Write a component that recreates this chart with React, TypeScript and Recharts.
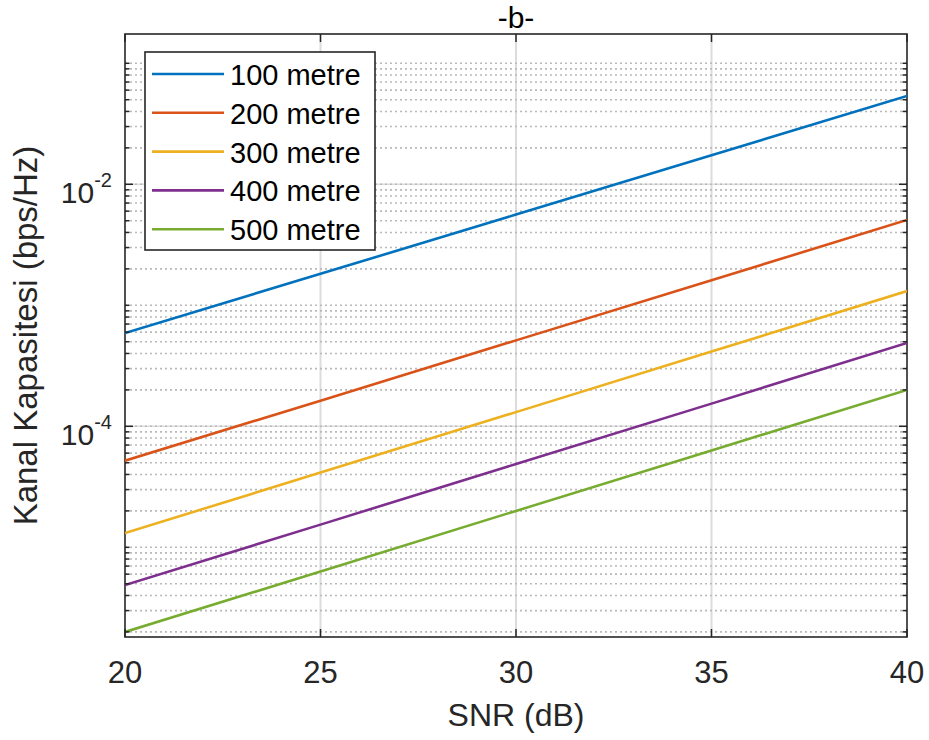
import React from 'react';
import { LineChart, Line, XAxis, YAxis, CartesianGrid, Customized } from 'recharts';

// ---- data ----
const snrDb = [20, 25, 30, 35, 40];
const cap100 = [5.9e-4, 1.82e-3, 5.62e-3, 1.74e-2, 5.37e-2];
const cap200 = [5.2e-5, 1.63e-4, 5.13e-4, 1.61e-3, 5.07e-3];
const cap300 = [1.31e-5, 4.15e-5, 1.31e-4, 4.15e-4, 1.31e-3];
const cap400 = [4.88e-6, 1.54e-5, 4.88e-5, 1.54e-4, 4.88e-4];
const cap500 = [2.0e-6, 6.31e-6, 2.0e-5, 6.31e-5, 2.0e-4];

const seriesNames = ['100 metre', '200 metre', '300 metre', '400 metre', '500 metre'];
const seriesColors = ['#0072BD', '#D95319', '#EDB120', '#7E2F8E', '#77AC30'];
const seriesValues = [cap100, cap200, cap300, cap400, cap500];

const xTicks = [20, 25, 30, 35, 40];
const xDomain = [20, 40];
const xMajorGrid = [25, 30, 35];
const yMajorTicks = [1e-4, 1e-2];
const yMajorLabels = ['-4', '-2'];
const yDecades = [1e-6, 1e-5, 1e-4, 1e-3, 1e-2, 1e-1];
const yMinorMultipliers = [1, 2, 3, 4, 5, 6, 7, 8, 9];
const yDomain = [1.815e-6, 0.1746];

const titleText = '-b-';
const xLabelText = 'SNR (dB)';
const yLabelText = 'Kanal Kapasitesi (bps/Hz)';

// ---- layout ----
const W = 929;
const H = 740;
const PL = 125;
const PR = 907;
const PT = 34;
const PB = 637;
const FONT = "'Liberation Sans', Arial, Helvetica, sans-serif";
const INK = '#262626';

const yGridValues = yDecades
  .flatMap((d) => yMinorMultipliers.map((m) => m * d))
  .filter((v) => v >= yDomain[0] && v <= yDomain[1]);

const data = snrDb.map((x, i) => {
  const row: Record<string, number> = { snr: x };
  seriesValues.forEach((arr, k) => {
    row['s' + k] = arr[i];
  });
  return row;
});

const majorIndex = (v: number) =>
  yMajorTicks.findIndex((t) => Math.abs(Math.log10(t) - Math.log10(v)) < 1e-6);

const XTick = (props: any) => {
  const { x, payload } = props;
  return (
    <g>
      <line x1={x} x2={x} y1={PB} y2={PB - 8} stroke={INK} strokeWidth={1.5} />
      <line x1={x} x2={x} y1={PT} y2={PT + 8} stroke={INK} strokeWidth={1.5} />
      <text x={x} y={683} textAnchor="middle" fontSize={31} fill={INK} fontFamily={FONT}>
        {payload.value}
      </text>
    </g>
  );
};

const YTick = (props: any) => {
  const { y, payload } = props;
  const mi = majorIndex(payload.value);
  const len = mi >= 0 ? 8 : 4.5;
  return (
    <g>
      <line x1={PL} x2={PL + len} y1={y} y2={y} stroke={INK} strokeWidth={1.5} />
      <line x1={PR} x2={PR - len} y1={y} y2={y} stroke={INK} strokeWidth={1.5} />
      {mi >= 0 && (
        <text x={112} y={y + 18.5} textAnchor="end" fontSize={30} fill={INK} fontFamily={FONT}>
          <tspan>10</tspan>
          <tspan dy={-15.5} fontSize={20}>
            {yMajorLabels[mi]}
          </tspan>
        </text>
      )}
    </g>
  );
};

const Overlay = () => {
  const lx = 145;
  const ly = 52;
  const step = 38.8;
  return (
    <g>
      <rect x={PL} y={PT} width={PR - PL} height={PB - PT} fill="none" stroke={INK} strokeWidth={1.6} />
      <text x={(PL + PR) / 2} y={28} textAnchor="middle" fontSize={30} fill="#000" fontFamily={FONT}>
        {titleText}
      </text>
      <text x={(PL + PR) / 2} y={726} textAnchor="middle" fontSize={32} fill={INK} fontFamily={FONT}>
        {xLabelText}
      </text>
      <text
        transform={`translate(37, ${(PT + PB) / 2}) rotate(-90)`}
        textAnchor="middle"
        fontSize={33}
        fill={INK}
        fontFamily={FONT}
      >
        {yLabelText}
      </text>
      <rect x={lx} y={ly} width={230} height={198} fill="#fff" stroke={INK} strokeWidth={1.6} />
      {seriesNames.map((name, i) => {
        const yy = 74 + i * step;
        return (
          <g key={name}>
            <line x1={152} x2={224} y1={yy} y2={yy} stroke={seriesColors[i]} strokeWidth={2.6} />
            <text x={230} y={yy + 11} fontSize={29} fill="#000" fontFamily={FONT}>
              {name}
            </text>
          </g>
        );
      })}
    </g>
  );
};

export default function App() {
  return (
    <div style={{ position: 'absolute', left: 0, top: 0, background: '#fff' }}>
      <LineChart
        width={W}
        height={H}
        data={data}
        margin={{ top: PT, right: W - PR, bottom: 0, left: 0 }}
        style={{ fontFamily: FONT, background: '#fff' }}
      >
        <CartesianGrid
          horizontal={false}
          verticalValues={xMajorGrid}
          stroke="#dcdcdc"
          strokeWidth={2}
        />
        <CartesianGrid
          vertical={false}
          horizontalValues={yMajorTicks}
          stroke="#dcdcdc"
          strokeWidth={1.5}
        />
        <CartesianGrid
          vertical={false}
          horizontalValues={yGridValues}
          stroke="#b9b9b9"
          strokeWidth={1.6}
          strokeDasharray="2 3"
        />
        <XAxis
          dataKey="snr"
          type="number"
          domain={xDomain}
          ticks={xTicks}
          interval={0}
          allowDataOverflow
          height={H - PB}
          tickLine={false}
          axisLine={false}
          tick={<XTick />}
        />
        <YAxis
          type="number"
          scale="log"
          domain={yDomain}
          ticks={yGridValues}
          interval={0}
          allowDataOverflow
          width={PL}
          tickLine={false}
          axisLine={false}
          tick={<YTick />}
        />
        {seriesNames.map((name, k) => (
          <Line
            key={name}
            dataKey={'s' + k}
            name={name}
            stroke={seriesColors[k]}
            strokeWidth={2.6}
            dot={false}
            activeDot={false}
            isAnimationActive={false}
          />
        ))}
        <Customized component={<Overlay />} />
      </LineChart>
    </div>
  );
}
